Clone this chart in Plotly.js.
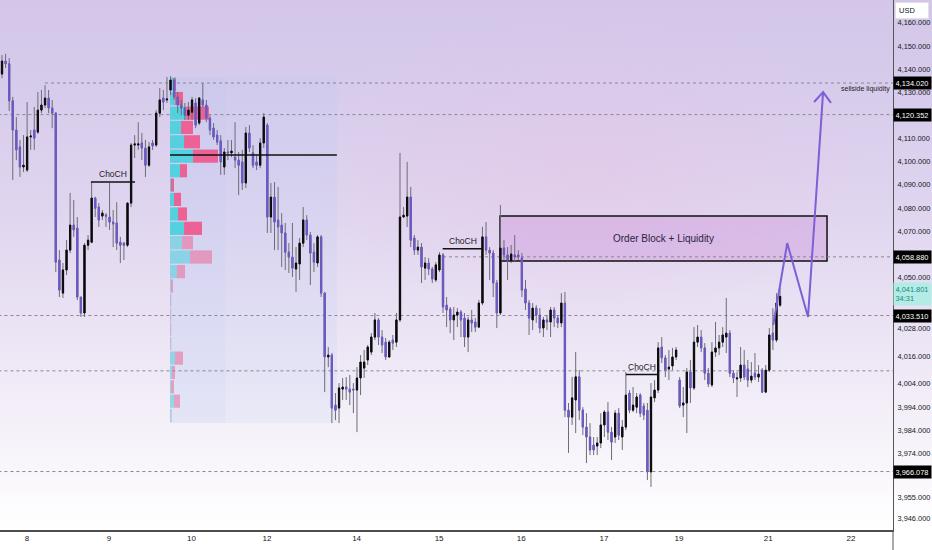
<!DOCTYPE html>
<html><head><meta charset="utf-8">
<script src="https://cdn.plot.ly/plotly-3.0.1.min.js"></script>
<style>
html,body{margin:0;padding:0;background:#fff;}
#wrap{width:932px;height:550px;position:relative;overflow:hidden;
 background:
  radial-gradient(ellipse 40% 38% at 63% 30%, rgba(230,195,228,0.42), rgba(230,195,228,0) 75%),
  linear-gradient(to bottom, #d3c6e8 0%, #d8ccec 18%, #e0d5ef 38%, #e9e1f3 56%, #f3eef8 74%, #faf8fc 88%, #ffffff 96%, #ffffff 100%);}
#chart{width:932px;height:550px;}
</style></head>
<body><div id="wrap"><div id="chart"></div></div>
<script>
// ---- candle data (1h) ----
const open=[4137.9,4143.5,4142.3,4126.3,4113.7,4106.4,4097.7,4096.4,4110.7,4113.7,
4112.8,4122.3,4124.5,4127.5,4123.2,4121.0,4057.5,4043.2,4053.2,4061.8,
4072.6,4071.3,4041.5,4034.6,4063.9,4065.2,4084.3,4080.4,4076.5,4076.9,
4076.1,4073.9,4073.5,4065.2,4064.8,4063.9,4082.1,4107.2,4107.2,4108.1,
4105.9,4098.5,4108.1,4107.2,4121.0,4127.5,4126.7,4131.0,4135.3,4128.0,
4124.5,4123.2,4120.1,4121.4,4125.4,4116.7,4126.7,4124.5,4118.8,4114.5,
4111.5,4109.0,4097.7,4104.2,4103.8,4102.0,4100.7,4099.9,4090.8,4112.4,
4103.8,4099.9,4098.5,4108.1,4115.8,4076.1,4084.7,4074.8,4072.6,4069.2,
4060.9,4058.8,4053.6,4055.8,4064.8,4074.8,4068.3,4060.9,4056.2,4067.5,
4043.2,4015.6,4016.4,3994.8,3993.5,4001.7,4002.6,4001.7,4001.7,4001.3,
4006.5,4010.8,4014.3,4017.7,4024.2,4031.6,4024.2,4022.0,4015.6,4022.9,
4022.0,4031.6,4076.1,4076.5,4084.7,4067.0,4061.8,4063.1,4054.0,4056.2,
4053.6,4048.9,4053.2,4059.7,4038.0,4036.3,4031.6,4033.7,4035.0,4032.4,
4024.2,4031.6,4030.7,4028.5,4038.9,4067.5,4061.8,4060.5,4047.6,4034.6,
4062.7,4059.7,4057.1,4059.7,4059.7,4058.4,4045.0,4038.9,4031.6,4036.7,
4033.7,4028.1,4031.6,4030.7,4035.9,4032.4,4030.3,4038.9,3992.6,3989.6,
3997.0,4007.0,3992.6,3985.3,3981.0,3977.5,3977.1,3978.4,3986.2,3991.8,
3983.1,3981.0,3991.3,3981.0,3985.3,4000.0,3992.6,3993.9,3999.1,3994.4,
3992.6,3965.9,3997.9,4001.3,4019.9,4015.2,4010.4,4011.7,4015.6,4005.6,
3994.8,3995.7,4009.1,4002.2,4022.0,4024.2,4019.5,4008.6,4003.5,4017.7,
4019.5,4022.0,4024.2,4025.9,4008.6,4006.1,4006.5,4012.1,4010.4,4005.6,
4008.6,4006.9,4009.9,4000.4,4009.9,4025.9,4022.9,4038.0];
const high=[4146.1,4146.6,4144.8,4128.0,4119.3,4109.4,4111.5,4125.8,4113.7,4123.7,
4130.1,4131.0,4133.1,4131.0,4126.7,4121.4,4061.8,4056.2,4066.1,4086.5,
4083.4,4076.1,4041.5,4064.8,4068.3,4091.2,4084.8,4082.1,4079.1,4077.8,
4090.8,4079.1,4082.5,4067.5,4065.2,4082.5,4108.1,4111.5,4117.1,4112.4,
4109.4,4108.5,4109.4,4122.3,4131.8,4131.0,4136.6,4137.0,4136.2,4130.1,
4126.7,4125.4,4125.8,4128.0,4127.5,4128.0,4134.0,4126.7,4120.1,4116.7,
4113.7,4111.5,4105.9,4109.4,4109.4,4117.1,4104.2,4105.1,4115.0,4115.8,
4107.2,4102.9,4110.2,4121.0,4116.7,4090.8,4091.2,4089.1,4077.8,4073.5,
4064.8,4073.5,4063.1,4067.0,4080.4,4076.9,4069.6,4064.8,4068.3,4068.3,
4043.7,4019.9,4017.3,4000.0,4004.3,4006.5,4006.9,4007.8,4004.3,4011.2,
4016.4,4018.6,4020.8,4025.9,4034.6,4032.4,4027.2,4023.8,4022.9,4025.1,
4034.6,4103.8,4080.4,4099.9,4089.1,4068.3,4066.1,4064.8,4058.8,4058.4,
4054.5,4056.6,4060.9,4060.5,4041.5,4037.2,4037.2,4036.7,4035.9,4034.6,
4032.9,4035.9,4032.4,4040.2,4071.8,4073.9,4063.1,4061.8,4048.9,4081.3,
4066.1,4063.1,4064.0,4068.3,4061.8,4060.5,4048.9,4040.2,4038.9,4038.0,
4036.7,4032.9,4033.7,4037.2,4037.2,4033.7,4043.2,4043.7,3995.7,4007.0,
4017.7,4009.9,3993.9,3991.3,3987.0,3981.0,3981.0,3991.3,3992.6,3996.1,
3985.3,3992.6,3993.5,3988.3,4009.1,4001.3,4002.6,4000.0,4000.0,3995.7,
3995.7,4004.3,4005.6,4022.0,4024.2,4016.4,4018.6,4019.5,4019.9,4006.9,
4002.6,4010.8,4014.3,4028.5,4029.4,4027.2,4021.6,4010.8,4022.0,4030.7,
4025.1,4028.5,4041.1,4027.2,4009.9,4009.1,4019.9,4018.6,4014.3,4013.4,
4017.3,4012.1,4010.8,4012.1,4028.1,4036.7,4043.2,4045.8];
const low=[4136.1,4140.5,4121.9,4092.1,4100.7,4093.4,4095.5,4095.5,4105.1,4105.1,
4112.0,4121.0,4123.2,4121.0,4114.5,4052.3,4041.5,4041.1,4051.0,4060.5,
4067.5,4040.2,4032.9,4032.9,4061.8,4064.8,4076.1,4071.8,4074.8,4071.8,
4070.5,4063.1,4061.8,4056.2,4057.5,4063.1,4080.4,4101.6,4105.1,4100.7,
4093.4,4097.7,4105.1,4106.4,4119.3,4122.3,4125.4,4128.8,4126.7,4121.0,
4120.1,4118.0,4118.0,4118.0,4114.5,4115.8,4123.2,4117.1,4111.5,4109.4,
4107.2,4094.3,4094.3,4100.7,4102.0,4097.2,4085.6,4087.8,4088.6,4104.2,
4097.2,4096.4,4097.2,4105.9,4069.2,4069.2,4061.8,4061.8,4054.5,4053.2,
4051.9,4050.2,4043.7,4048.9,4063.1,4066.1,4046.7,4052.3,4054.5,4041.5,
4000.4,4011.2,3987.0,3988.3,3987.0,3997.0,3997.0,3994.8,3991.3,3983.1,
3999.1,4006.5,4012.1,4016.4,4022.9,4020.8,4017.3,4014.3,4015.2,4018.6,
4019.9,4030.7,4075.7,4071.8,4063.1,4059.7,4059.7,4047.6,4048.9,4051.0,
4047.6,4048.0,4052.3,4034.6,4028.5,4025.9,4022.9,4028.5,4024.2,4019.9,
4017.7,4026.4,4026.4,4028.1,4038.0,4059.7,4048.9,4041.5,4028.1,4033.7,
4057.5,4048.9,4056.2,4056.6,4057.5,4041.5,4035.9,4025.1,4027.2,4030.3,
4025.9,4024.2,4027.2,4024.2,4028.5,4028.1,4028.5,3989.6,3974.1,3986.2,
3982.7,3988.3,3981.8,3969.7,3973.2,3973.2,3973.2,3976.2,3981.0,3979.7,
3971.0,3978.4,3979.7,3975.4,3984.0,3991.3,3991.8,3991.3,3989.6,3988.3,
3962.4,3959.4,3996.1,4000.0,4013.0,4006.9,4005.6,4009.9,4014.3,3993.5,
3989.6,3982.7,3995.7,4001.3,4019.9,4017.7,4005.6,4002.6,4002.6,4015.6,
4016.4,4019.9,4017.3,4006.9,4004.3,3998.3,4004.8,4005.6,4002.6,4004.3,
4005.6,4004.8,4000.0,4000.0,4009.1,4018.6,4022.0,4037.2];
const close=[4143.5,4142.3,4126.3,4113.7,4105.1,4097.7,4098.5,4110.7,4111.1,4110.2,
4122.3,4124.5,4127.5,4123.2,4121.0,4056.6,4044.5,4053.2,4061.8,4072.6,
4070.5,4041.5,4034.6,4063.9,4066.1,4084.3,4079.9,4074.8,4077.8,4076.5,
4073.9,4073.1,4064.8,4063.9,4063.9,4082.1,4107.2,4107.7,4107.7,4105.9,
4098.5,4106.4,4106.8,4121.0,4126.7,4125.8,4127.1,4135.3,4128.0,4124.5,
4123.2,4120.1,4122.3,4126.7,4115.8,4127.5,4124.5,4118.8,4113.7,4110.7,
4108.5,4099.9,4104.2,4103.8,4104.6,4100.7,4098.5,4090.8,4112.4,4105.9,
4098.5,4098.5,4108.1,4119.3,4076.1,4084.7,4073.9,4071.8,4069.2,4060.9,
4058.8,4054.0,4056.2,4064.8,4074.8,4068.3,4060.5,4056.6,4067.5,4043.2,
4015.6,4016.4,3993.5,3992.6,4002.2,4002.6,4001.7,4000.4,4001.3,4006.5,
4013.4,4013.4,4019.9,4024.2,4031.6,4024.2,4020.8,4015.6,4022.0,4021.6,
4031.6,4076.1,4076.9,4084.7,4066.1,4061.8,4063.1,4054.5,4056.2,4053.6,
4049.3,4055.4,4059.7,4037.2,4035.9,4031.6,4033.7,4035.0,4031.6,4024.2,
4031.6,4030.3,4028.5,4038.9,4067.5,4061.8,4060.5,4047.6,4034.6,4062.7,
4059.7,4057.5,4060.1,4058.8,4058.8,4044.5,4038.9,4032.4,4036.7,4033.7,
4028.1,4031.6,4030.7,4035.9,4032.4,4030.3,4038.9,3992.6,3989.6,3997.9,
4007.0,3992.6,3985.3,3981.0,3975.4,3975.4,3978.4,3986.2,3991.8,3983.1,
3978.8,3991.3,3981.8,3985.3,3999.1,3992.6,3994.8,3998.3,3991.3,3990.5,
3965.9,3998.3,4001.3,4019.5,4015.2,4009.9,4011.2,4015.6,4018.6,3994.4,
3995.7,4009.1,4002.2,4022.0,4024.2,4019.5,4008.6,4003.9,4017.7,4019.5,
4022.0,4025.1,4025.9,4008.6,4006.5,4006.5,4012.1,4006.9,4005.6,4007.3,
4006.9,4008.2,4000.4,4009.9,4025.1,4022.9,4038.9,4041.8];

// ---- axis labels ----
const xTickPos=[6.97,29.85,52.86,73.92,98.9,121.9,144.8,167.9,188.8,213.7,236.8];
const xTickLabels=['8','9','10','12','14','15','16','17','19','21','22'];
const yTickVals=[4160,4150,4140,4130,4110,4100,4090,4080,4070,4050,4028,4016,4004,3994,3984,3974,3955,3946];

// ---- levels / annotations ----
const levels=[4134.020,4120.352,4058.880,4033.510,3966.078];
const levelStart=[12,-1,123,-1,-1];
const plainLevel=4009.6;
const lastPrice=4041.801, countdown='34:31';
const chochX0=[24.8,122.9,174.0], chochX1=[37.1,134.1,182.8], chochPrice=[4091.2,4062.4,4008.0];
const obX=[138.9,230.1], obPrice=[4057.1,4076.5];
const obLabel='Order Block + Liquidity';
const projX=[215.1,219.0,224.8,229.0], projY=[4029.4,4064.8,4032.9,4130.1];
const headX=[226.5,229.0,231.2], headY=[4125.8,4130.1,4125.4];

// ---- volume profile ----
const profilePrice=[4133.5,4127.3,4121.0,4114.8,4108.6,4102.4,4096.1,4089.9,4083.7,4077.4,4071.2,4065.0,
4058.8,4052.5,4046.3,4040.1,4033.8,4027.6,4021.4,4015.1,4008.9,4002.7,3996.5,3990.2];
const volUp=[5,5,16,11,14,23,10,1,4,8,14,12,20,7,1,0.6,0.6,0.6,0.6,5,2,1,4,1];
const volDown=[1,8,23,12,16,25,7,3,7,9,18,11,22,8,2,0.6,0.6,0.6,0.6,8,3,3,6,0.5];
const valueAreaRows=11;
const pocPrice=4102.9;
const profileX=[46.86,93.4], profileY=[3987.1,4136.6];

// ---- styling ----
const volScale=1/3.585;
const BULL='#0b0b0d', BEAR='#6c59c7', WICK='#6e6c78', PROJ='#7d5fd6';
const FONT='"Liberation Sans",Arial,sans-serif';

const idx=open.map((_,i)=>i);
const bodyHi=open.map((o,i)=>Math.max(o,close[i]));
const bodyLo=open.map((o,i)=>Math.min(o,close[i]));
const fmt=v=>v.toLocaleString('en-US',{minimumFractionDigits:3,maximumFractionDigits:3});

const cyanCols=volUp.map((_,i)=>i<valueAreaRows?'rgba(78,208,220,0.95)':'rgba(78,208,220,0.55)');
const pinkCols=volDown.map((_,i)=>i<valueAreaRows?'rgba(238,92,142,0.95)':'rgba(238,92,142,0.5)');

const traces=[
 {type:'bar',orientation:'h',y:profilePrice,x:volUp.map(v=>v*volScale),base:profileX[0],
  width:5.7,marker:{color:cyanCols,line:{width:0}},hoverinfo:'skip',showlegend:false},
 {type:'bar',orientation:'h',y:profilePrice,x:volDown.map(v=>v*volScale),
  base:volUp.map(v=>profileX[0]+v*volScale),
  width:5.7,marker:{color:pinkCols,line:{width:0}},hoverinfo:'skip',showlegend:false},
 {type:'candlestick',x:idx,open:open,high:high,low:low,close:close,whiskerwidth:0,
  increasing:{line:{color:WICK,width:1},fillcolor:WICK},
  decreasing:{line:{color:WICK,width:1},fillcolor:WICK},hoverinfo:'skip',showlegend:false},
 {type:'candlestick',x:idx,open:open,high:bodyHi,low:bodyLo,close:close,whiskerwidth:0,
  increasing:{line:{color:BULL,width:1},fillcolor:BULL},
  decreasing:{line:{color:BEAR,width:1},fillcolor:BEAR},hoverinfo:'skip',showlegend:false},
 {type:'scatter',mode:'lines',x:projX,y:projY,line:{color:PROJ,width:2},hoverinfo:'skip',showlegend:false},
 {type:'scatter',mode:'lines',x:headX,y:headY,line:{color:PROJ,width:2},hoverinfo:'skip',showlegend:false}
];

const X_END=248.5;
const shapes=[
 {type:'rect',layer:'below',x0:profileX[0],x1:profileX[1],y0:profileY[0],y1:profileY[1],
  fillcolor:'rgba(175,200,245,0.17)',line:{width:0}},
 {type:'rect',layer:'below',x0:profileX[0],x1:(profileX[0]*2+profileX[1])/3,y0:profileY[0],y1:profileY[1],
  fillcolor:'rgba(175,200,245,0.10)',line:{width:0}},
 {type:'rect',layer:'below',x0:obX[0],x1:obX[1],y0:obPrice[0],y1:obPrice[1],
  fillcolor:'rgba(205,150,220,0.42)',line:{color:'#111',width:1.5}},
 {type:'line',x0:profileX[0],x1:profileX[1],y0:pocPrice,y1:pocPrice,line:{color:'#111',width:1.5}},
 {type:'line',layer:'below',x0:-1,x1:X_END,y0:plainLevel,y1:plainLevel,line:{color:'#8a8694',width:1,dash:'dot'}},
 {type:'line',xref:'paper',yref:'paper',x0:1,x1:1,y0:-0.04,y1:0,line:{color:'#555',width:1}}
];
levels.forEach((v,i)=>shapes.push({type:'line',layer:'below',x0:levelStart[i],x1:X_END,y0:v,y1:v,
  line:{color:'#8a8694',width:1,dash:'dot'}}));
chochPrice.forEach((p,i)=>shapes.push({type:'line',x0:chochX0[i],x1:chochX1[i],y0:p,y1:p,line:{color:'#111',width:1.5}}));

const annotations=[];
chochPrice.forEach((p,i)=>annotations.push({x:(chochX0[i]+chochX1[i])/2,y:p,yshift:8,text:'ChoCH',
  showarrow:false,font:{family:FONT,size:8.5,color:'#222'}}));
annotations.push({x:(obX[0]+obX[1])/2,y:(obPrice[0]+obPrice[1])/2,text:obLabel,showarrow:false,
  font:{family:FONT,size:10,color:'#2b2440'}});
annotations.push({x:X_END-0.4,xanchor:'right',y:levels[0],yshift:-6,text:'sellside liquidity',showarrow:false,
  font:{family:FONT,size:7,color:'#222'}});
levels.forEach(v=>annotations.push({xref:'paper',x:1,xanchor:'left',xshift:0,y:v,text:fmt(v),showarrow:false,
  bgcolor:'#000',font:{family:FONT,size:7.4,color:'#fff'},borderpad:1.5,width:34,align:'left'}));
annotations.push({xref:'paper',x:1,xanchor:'left',y:lastPrice,yshift:2,text:fmt(lastPrice)+'<br>'+countdown,showarrow:false,
  bgcolor:'#b3ebe5',font:{family:FONT,size:7.4,color:'#158a80'},borderpad:1.5,width:34,align:'left'});
annotations.push({xref:'paper',yref:'paper',x:1,xanchor:'left',xshift:2,y:1,yanchor:'top',yshift:-2,text:'USD',showarrow:false,
  bgcolor:'#fff',bordercolor:'#e0e0e6',borderwidth:1,font:{family:FONT,size:7.5,color:'#131722'},borderpad:3,width:26,align:'left'});

const layout={
 width:932,height:550,margin:{l:0,r:39,t:0,b:20},
 paper_bgcolor:'rgba(0,0,0,0)',plot_bgcolor:'rgba(0,0,0,0)',
 showlegend:false,hovermode:false,barmode:'overlay',boxgap:0.5,
 xaxis:{range:[-0.56,X_END],tickmode:'array',tickvals:xTickPos,ticktext:xTickLabels,
  showgrid:false,zeroline:false,showline:true,linecolor:'#4d4d4d',linewidth:1.5,ticks:'',
  tickfont:{family:FONT,size:8,color:'#131722'},rangeslider:{visible:false},fixedrange:true},
 yaxis:{side:'right',range:[3940.8,4169.9],tickmode:'array',tickvals:yTickVals,ticktext:yTickVals.map(fmt),
  showgrid:false,zeroline:false,showline:true,linecolor:'#555',linewidth:1,ticks:'',ticklabelstandoff:2,
  tickfont:{family:FONT,size:7.4,color:'#131722'},fixedrange:true},
 shapes:shapes,annotations:annotations
};
Plotly.newPlot('chart',traces,layout,{staticPlot:true,displayModeBar:false});
</script></body></html>
